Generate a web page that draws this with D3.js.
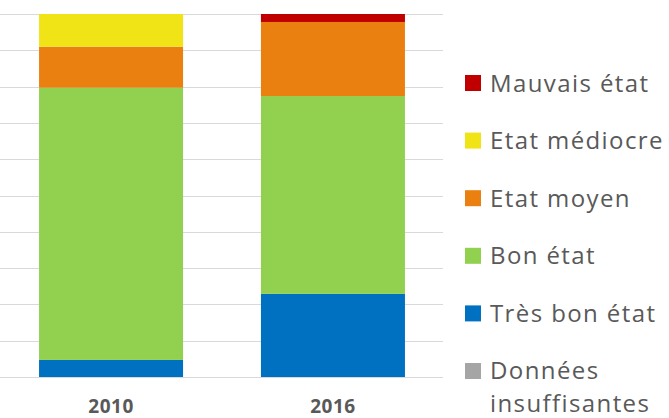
<!DOCTYPE html>
<html>
<head>
<meta charset="utf-8">
<script src="https://cdn.jsdelivr.net/npm/d3@7"></script>
<style>
  html, body { margin: 0; padding: 0; background: #fff; }
  svg { display: block; }
</style>
</head>
<body>
<div id="chart"></div>
<script>
// years on the x axis
const years = ["2010", "2016"];

// share of each condition class, in %
const tresBon   = [4.7, 22.9];
const bon       = [75.0, 54.5];
const moyen     = [11.3, 20.4];
const mediocre  = [9.0, 0];
const mauvais   = [0, 2.2];
const sansDonnees = [0, 0];

// stacking order, bottom to top
const seriesKeys = ["Données insuffisantes", "Très bon état", "Bon état", "Etat moyen", "Etat médiocre", "Mauvais état"];
const seriesValues = [sansDonnees, tresBon, bon, moyen, mediocre, mauvais];
const seriesColors = ["#a5a5a5", "#0070c0", "#92d050", "#ea800f", "#f1e416", "#c00000"];

// legend lists top to bottom
const legendKeys = ["Mauvais état", "Etat médiocre", "Etat moyen", "Bon état", "Très bon état", "Données insuffisantes"];

const gridTicks = d3.range(0, 101, 10);

const width = 669;
const height = 418;

const rows = years.map((y, i) => {
  const r = { year: y };
  seriesKeys.forEach((k, j) => { r[k] = seriesValues[j][i]; });
  return r;
});

const stacked = d3.stack().keys(seriesKeys)(rows);
const color = d3.scaleOrdinal().domain(seriesKeys).range(seriesColors);

const x = d3.scaleBand().domain(years).range([0, 444]).paddingInner(0.351).paddingOuter(0.176);
const y = d3.scaleLinear().domain([0, 100]).range([377, 14]);

const svg = d3.select("#chart").append("svg")
  .attr("width", width)
  .attr("height", height);

// horizontal gridlines
svg.append("g")
  .selectAll("line")
  .data(gridTicks)
  .join("line")
  .attr("x1", 0)
  .attr("x2", 443)
  .attr("y1", (d) => Math.round(y(d)) + 0.5)
  .attr("y2", (d) => Math.round(y(d)) + 0.5)
  .attr("stroke", "#d9d9d9")
  .attr("stroke-width", 1.2);

// stacked bars
svg.append("g")
  .selectAll("g")
  .data(stacked)
  .join("g")
  .attr("fill", (d) => color(d.key))
  .selectAll("rect")
  .data((d) => d)
  .join("rect")
  .attr("x", (d) => x(d.data.year))
  .attr("width", x.bandwidth())
  .attr("y", (d) => y(d[1]))
  .attr("height", (d) => y(d[0]) - y(d[1]));

// year labels
svg.append("g")
  .selectAll("text")
  .data(years)
  .join("text")
  .attr("x", (d) => x(d) + x.bandwidth() / 2)
  .attr("y", 413)
  .attr("text-anchor", "middle")
  .attr("font-family", "'Open Sans', sans-serif")
  .attr("font-weight", "bold")
  .attr("font-size", 19)
  .attr("letter-spacing", 0.5)
  .attr("fill", "#595959")
  .text((d) => d);

// legend
const legend = svg.append("g")
  .attr("font-family", "'Open Sans', sans-serif")
  .attr("font-size", 24)
  .attr("letter-spacing", 1.4)
  .attr("fill", "#595959");

const ly = d3.scalePoint().domain(legendKeys).range([83, 371]);

const item = legend.selectAll("g")
  .data(legendKeys)
  .join("g")
  .attr("transform", (d) => `translate(465,${ly(d)})`);

item.append("rect")
  .attr("x", 0)
  .attr("y", -8)
  .attr("width", 16)
  .attr("height", 16)
  .attr("fill", (d) => color(d));

item.append("text")
  .attr("x", 25)
  .attr("dy", "0.36em")
  .each(function (d) {
    const t = d3.select(this);
    if (d === "Données insuffisantes") {
      t.attr("dy", null);
      t.append("tspan").attr("x", 25).attr("y", -1).attr("dy", "0.36em").text("Données");
      t.append("tspan").attr("x", 25).attr("y", 32).attr("dy", "0.36em").text("insuffisantes");
    } else {
      t.text(d);
    }
  });
</script>
</body>
</html>
